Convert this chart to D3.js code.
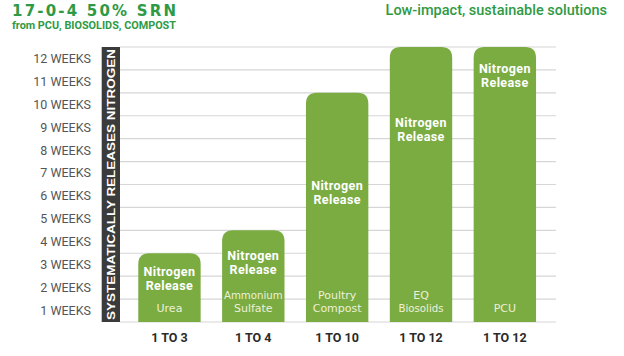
<!DOCTYPE html>
<html><head><meta charset="utf-8">
<script src="https://cdn.jsdelivr.net/npm/d3@7"></script>
<style>body{margin:0;background:#fff}svg{display:block}</style>
</head><body><svg id="c" width="624" height="356"></svg>
<script>
const categories = ["1 TO 3","1 TO 4","1 TO 10","1 TO 12","1 TO 12"];
const weeks = [3,4,10,12,12];
const products = [["Urea"],["Ammonium","Sulfate"],["Poultry","Compost"],["EQ","Biosolids"],["PCU"]];
const releaseLabelWeek = [2.2,2.9,5.95,8.7,11.05];
const weekTicks = [1,2,3,4,5,6,7,8,9,10,11,12];
const tickLabels = weekTicks.map(d => d + " WEEKS");

const svg = d3.select("#c");
const green = "#7aac42", titleGreen = "#2f9a45";
const y = d3.scaleLinear().domain([0,12]).range([322,47]);
const x = d3.scaleBand().domain(d3.range(categories.length)).range([116.8,557.5]).paddingInner(0.256).paddingOuter(0.256);

// titles
svg.append("text").attr("x",12).attr("y",16).attr("fill",titleGreen)
  .attr("font-family","'DejaVu Sans',sans-serif").attr("font-weight","bold").attr("font-size",15)
  .attr("textLength",164).attr("lengthAdjust","spacing").text("17-0-4 50% SRN");
svg.append("text").attr("x",12).attr("y",29).attr("fill",titleGreen)
  .attr("font-family","Roboto,sans-serif").attr("font-weight","bold").attr("font-size",10.5)
  .attr("textLength",164).attr("lengthAdjust","spacingAndGlyphs")
  .text("from PCU, BIOSOLIDS, COMPOST");
svg.append("text").attr("x",607).attr("y",15).attr("text-anchor","end").attr("fill",titleGreen)
  .attr("font-family","Roboto,sans-serif").attr("font-weight","500").attr("font-size",14.5)
  .text("Low-impact, sustainable solutions");

// gridlines
svg.append("g").selectAll("line").data([0].concat(weekTicks)).join("line")
  .attr("x1",120).attr("x2",556).attr("y1",d=>y(d)).attr("y2",d=>y(d))
  .attr("stroke","#d6d6d6").attr("stroke-width",1.2);

// y labels
svg.append("g").selectAll("text").data(weekTicks).join("text")
  .attr("x",91).attr("y",d=>(y(d)+y(d-1))/2).attr("dy","0.35em").attr("text-anchor","end")
  .attr("fill","#555").attr("font-family","Roboto,sans-serif").attr("font-size",12.5)
  .text((d,i)=>tickLabels[i]);

// dark band
svg.append("rect").attr("x",101.7).attr("y",y(12)).attr("width",18.3).attr("height",y(0)-y(12)).attr("fill","#3b3b3b");
svg.append("text").attr("transform",`translate(111,${(y(0)+y(12))/2}) rotate(-90)`)
  .attr("text-anchor","middle").attr("dy","0.36em").attr("fill","#fff")
  .attr("font-family","'Liberation Sans',Arial,sans-serif").attr("font-weight","bold").attr("font-size",11.3)
  .attr("textLength",y(0)-y(12)-4).attr("lengthAdjust","spacingAndGlyphs")
  .text("SYSTEMATICALLY RELEASES NITROGEN");

// bars with rounded top
const r = 11;
function barPath(i){
  const x0 = x(i), x1 = x(i)+x.bandwidth(), y0 = y(weeks[i]), yb = y(0);
  return `M${x0},${yb}V${y0+r}Q${x0},${y0} ${x0+r},${y0}H${x1-r}Q${x1},${y0} ${x1},${y0+r}V${yb}Z`;
}
svg.append("g").selectAll("path").data(weeks).join("path").attr("d",(d,i)=>barPath(i)).attr("fill",green);

// labels inside bars
const g = svg.append("g");
weeks.forEach((w,i)=>{
  const cx = x(i)+x.bandwidth()/2;
  const t = g.append("text").attr("text-anchor","middle").attr("fill","#fff")
    .attr("font-family","Roboto,sans-serif").attr("font-weight","bold").attr("font-size",12.5)
    .attr("letter-spacing",0.4).attr("y",y(releaseLabelWeek[i]));
  t.append("tspan").attr("x",cx).attr("dy","0.35em").text("Nitrogen");
  t.append("tspan").attr("x",cx).attr("dy","1.1em").text("Release");
  const p = products[i];
  const base = 312;
  p.forEach((s,j)=>{
    g.append("text").attr("x",cx).attr("y",base-(p.length-1-j)*13.5).attr("text-anchor","middle")
      .attr("fill","#eef0d8").attr("font-family","'DejaVu Sans',sans-serif").attr("font-size",p.length>1&&s.length>7?10.2:11)
      .text(s);
  });
});

// x labels
svg.append("g").selectAll("text").data(categories).join("text")
  .attr("x",(d,i)=>x(i)+x.bandwidth()/2).attr("y",338).attr("dy","0.35em").attr("text-anchor","middle")
  .attr("fill","#2a2a2a").attr("font-family","Roboto,sans-serif").attr("font-weight","bold").attr("font-size",12.5)
  .text(d=>d);
</script></body></html>
